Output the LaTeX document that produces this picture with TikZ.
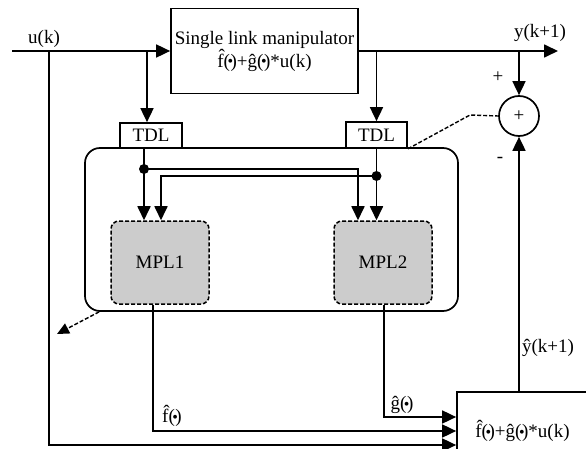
\documentclass[tikz,border=0pt]{standalone}
\usepackage{fontspec}
\setmainfont{Liberation Serif}
\usetikzlibrary{arrows.meta,calc}
\newcommand\mydot{(\kern-2.5pt\raisebox{0.5pt}{\fontsize{16}{16}\selectfont •}\kern-2.5pt)}
\newcommand\myfh{\^{f}\mydot}
\newcommand\mygh{\^{g}\mydot}
\begin{document}
\begin{tikzpicture}[x=1pt,y=-1pt,
  line width=1.7pt,
  every node/.style={font=\fontsize{19}{22}\selectfont},
  arr/.style={-{Triangle[length=14pt,width=13pt]}},
  blk/.style={draw, rectangle, inner sep=0pt},
  dsh/.style={dashed, dash pattern=on 4pt off 2pt, line width=1.4pt},
  mpl/.style={draw, rectangle, rounded corners=8pt, fill=gray!40, dsh, line width=1.5pt, inner sep=0pt, minimum width=98pt, minimum height=83pt},
  lbl/.style={inner sep=0pt}
]
\useasboundingbox (0,0) rectangle (586,449);
\clip (0,0) rectangle (586,449);

% blocks
\node[draw, rounded corners=15pt, minimum width=373pt, minimum height=163pt] (Big) at (271.5,229.5) {};
\node[blk, minimum width=187pt, minimum height=85pt, align=center] (M) at (264.5,51) {Single link manipulator\\[1pt]\myfh+\mygh*u(k)};
\node[blk, fill=white, minimum width=62pt, minimum height=25pt] (T1) at (151,135.5) {TDL};
\node[blk, fill=white, minimum width=61pt, minimum height=26pt] (T2) at (376.5,135) {TDL};
\node[draw, circle, minimum size=40pt, inner sep=0pt] (S) at (519,116) {+};
\node[mpl] (P1) at (160,262.5) {MPL1};
\node[mpl] (P2) at (383,262.5) {MPL2};
\node[blk, minimum width=131pt, minimum height=78pt] (B) at (522.5,431) {\myfh+\mygh*u(k)};

\coordinate (uin) at (12,51);
\coordinate (uk) at (49,51);
\coordinate (yout) at (558,51);
\coordinate (d1) at (144,169);
\coordinate (d2) at (376.5,176);
\coordinate (dk) at (470,115);

% top signal lines
\draw[arr] (uin) -- (M.west);
\draw[arr] (M.east) -- (yout);
\draw[arr] ([xshift=-4pt]T1.north |- M.west) -- ([xshift=-4pt]T1.north);
\draw[arr] (T2.north |- M.east) -- (T2.north);
\draw[arr] (S.north |- M.east) -- (S.north);
\draw[arr] (uk) |- ([yshift=-14pt]B.west);
\draw[dsh] (T2.south east) -- (dk) -- (S.west);
\draw[arr] (S.south |- B.north) -- (S.south);

% internal lines
\draw[arr] ([xshift=-7pt]T1.south) -- ([xshift=-16pt]P1.north);
\draw[arr] (d1) -| ([xshift=-25pt]P2.north);
\draw[arr] (T2.south) -- (T2.south |- P2.north);
\draw[arr] (d2) -| ([xshift=1pt]P1.north);
\fill (d1) circle (5pt);
\fill (d2) circle (5pt);

% outputs
\draw[arr] ([xshift=-7pt]P1.south) |- (B.west);
\draw[arr] ([xshift=1pt]P2.south) |- ([yshift=14pt]B.west);
\draw[dsh, -{Triangle[length=12pt,width=11pt]}] ([xshift=15pt]Big.south west) -- (57,334);

% labels
\node[lbl] (luk) at (44,39) {u(k)};
\node[lbl] (lyk) at (540,33) {y(k+1)};
\node[lbl] (lplus) at (498,77) {+};
\node[lbl] (lminus) at (500,160) {-};
\node[lbl] (lyh) at (548,348) {\^{y}(k+1)};
\node[lbl] (lf) at (172,416) {\myfh};
\node[lbl] (lg) at (402,405) {\mygh};
\end{tikzpicture}
\end{document}
